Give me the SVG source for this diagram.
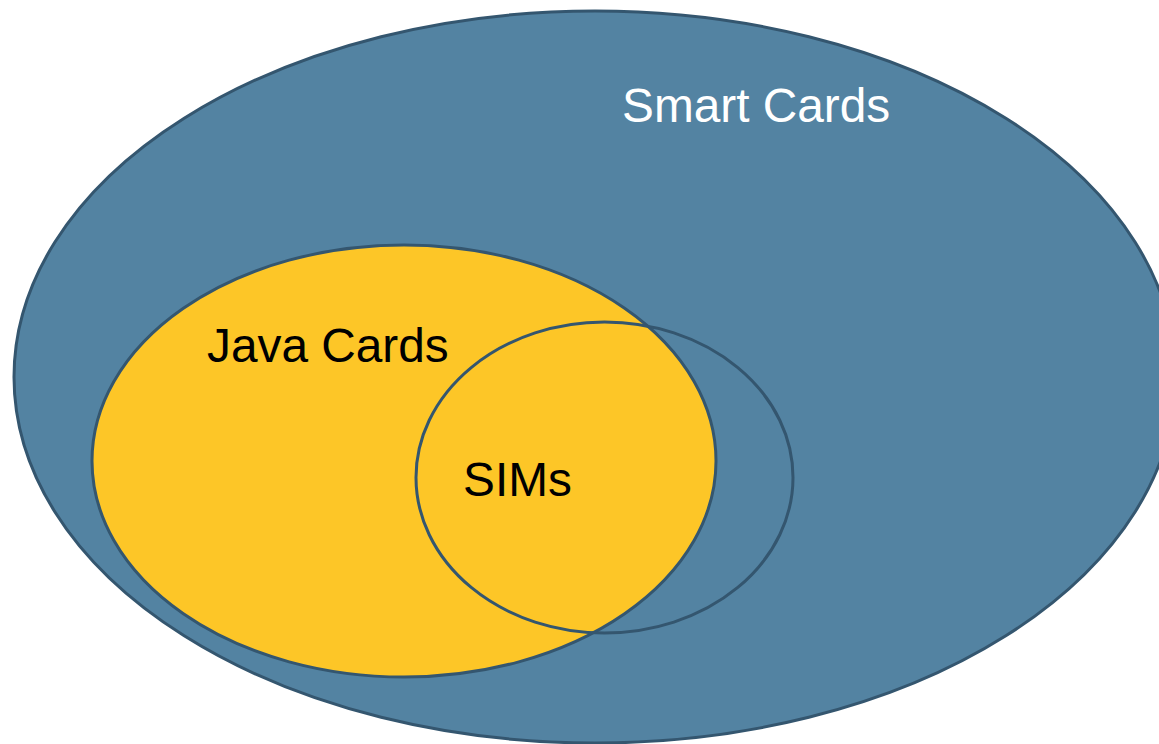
<svg xmlns="http://www.w3.org/2000/svg" width="1159" height="744" viewBox="0 0 1159 744">
<style>
.set{stroke:#34566f;stroke-width:3}
.lbl{font-family:"Liberation Sans",Arial,sans-serif;font-size:47.8px}
</style>
<rect width="1159" height="744" fill="#ffffff"/>
<g id="smart-cards">
<ellipse class="set" cx="595" cy="377" rx="581" ry="366" fill="#5383a2"/>
<text class="lbl" x="622" y="122" fill="#ffffff">Smart Cards</text>
</g>
<g id="java-cards">
<ellipse class="set" cx="404" cy="461" rx="312" ry="216" fill="#fdc627"/>
<text class="lbl" x="207" y="362" fill="#000000">Java Cards</text>
</g>
<g id="sims">
<ellipse class="set" cx="604.5" cy="477.5" rx="188.5" ry="155.5" fill="none"/>
<text class="lbl" x="463" y="496" fill="#000000">SIMs</text>
</g>
<g id="connectors"/>
</svg>
